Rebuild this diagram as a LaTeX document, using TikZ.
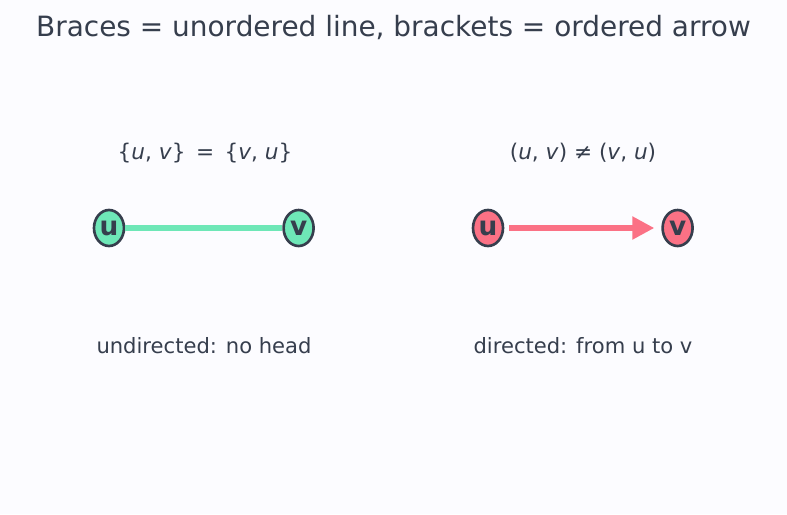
\documentclass[tikz,border=0pt]{standalone}
\usepackage{fontspec}
\setmainfont{DejaVu Sans}
\usetikzlibrary{positioning,arrows.meta,shapes.geometric}

\definecolor{bgc}{HTML}{FCFCFF}
\definecolor{inkc}{HTML}{363E4D}
\definecolor{mint}{HTML}{6EE7B7}
\definecolor{rose}{HTML}{FB7185}

\begin{document}
\begin{tikzpicture}[
x=0.02cm, y=-0.02cm,
node distance=3.14cm,
vert/.style={ellipse, draw=inkc, line width=1.5pt, minimum width=0.6cm, minimum height=0.72cm, inner sep=0pt, text=inkc, font=\fontsize{15}{15}\selectfont\bfseries},
lbl/.style={text=inkc, font=\fontsize{12}{14}\selectfont},
mathlbl/.style={text=inkc, font=\fontsize{12.3}{14}\selectfont},
link/.style={line width=3pt},
arrow/.style={-{Triangle[length=0.44cm, width=0.44cm]}, line width=3pt, shorten <=0.1cm, shorten >=0.14cm}
]
\fill[bgc] (0,0) rectangle (787,514);
\useasboundingbox (0,0) rectangle (787,514);

\node[text=inkc, font=\fontsize{15.9}{18}\selectfont] (title) at (393.5,28) {Braces = unordered line, brackets = ordered arrow};

% undirected
\node[vert, fill=mint] (u1) at (109,228) {u};
\node[vert, fill=mint, right=of u1] (v1) {v};
\node[mathlbl] (set) at (205,153) {\{\textit{u}, \textit{v}\}\, = \,\{\textit{v}, \textit{u}\}};
\node[lbl] (undir) at (204,346) {undirected: no head};

% directed
\node[vert, fill=rose] (u2) at (488,228) {u};
\node[vert, fill=rose, right=of u2] (v2) {v};
\node[mathlbl] (pair) at (583,153) {(\textit{u}, \textit{v}) ≠ (\textit{v}, \textit{u})};
\node[lbl] (dir) at (583,346) {directed: from u to v};

\draw[link, draw=mint] (u1) -- (v1);
\draw[arrow, draw=rose, fill=rose] (u2) -- (v2);

\end{tikzpicture}
\end{document}
